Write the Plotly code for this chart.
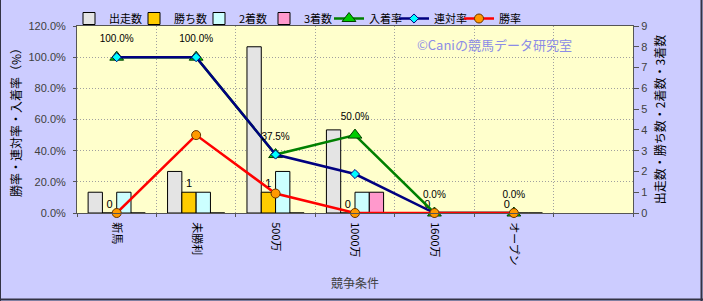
import plotly.graph_objects as go

categories = ["新馬", "未勝利", "500万", "1000万", "1600万", "オープン", " "]
data_cats = categories[:6]
starts = [1, 2, 8, 4, 0, 0]        # 出走数
wins = [0, 1, 1, 0, 0, 0]          # 勝ち数
seconds = [1, 1, 2, 1, 0, 0]       # 2着数
thirds = [0, 0, 0, 1, 0, 0]        # 3着数
place_rate = [100.0, 100.0, 37.5, 50.0, 0.0, 0.0]   # 入着率
rentai_rate = [100.0, 100.0, 37.5, 25.0, 0.0, 0.0]  # 連対率
win_rate = [0.0, 50.0, 12.5, 0.0, 0.0, 0.0]         # 勝率

W, H = 703, 301
ML, MR, MT, MB = 77, 70, 26, 88
PW, PH = W - ML - MR, H - MT - MB

def px_x(p):
    return (p - ML) / PW

def px_y(p):
    return (H - MB - p) / PH

FONT = "Liberation Sans, Noto Sans CJK JP, sans-serif"
JFONT = "Noto Sans CJK JP, sans-serif"

fig = go.Figure()
bar_line = dict(color="#000000", width=1)
fig.add_trace(go.Bar(name="出走数", x=data_cats, y=starts, yaxis="y",
                     marker=dict(color="#E4E4E4", line=bar_line)))
fig.add_trace(go.Bar(name="勝ち数", x=data_cats, y=wins, yaxis="y",
                     marker=dict(color="#FFCC00", line=bar_line),
                     text=[str(v) for v in wins], textposition="outside",
                     textfont=dict(size=11, color="#000000", family=FONT),
                     cliponaxis=False))
fig.add_trace(go.Bar(name="2着数", x=data_cats, y=seconds, yaxis="y",
                     marker=dict(color="#CCFFFF", line=bar_line)))
fig.add_trace(go.Bar(name="3着数", x=data_cats, y=thirds, yaxis="y",
                     marker=dict(color="#FF99CC", line=bar_line)))

fig.add_trace(go.Scatter(name="入着率", x=data_cats, y=place_rate, yaxis="y2",
                         mode="lines+markers",
                         line=dict(color="#008000", width=2.5),
                         marker=dict(symbol="triangle-up", size=12, color="#00CC00",
                                     line=dict(color="#004000", width=1)),
                         cliponaxis=False))
fig.add_trace(go.Scatter(name="連対率", x=data_cats, y=rentai_rate, yaxis="y2",
                         mode="lines+markers",
                         line=dict(color="#000080", width=2.5),
                         marker=dict(symbol="diamond", size=7, color="#00FFFF",
                                     line=dict(color="#000080", width=1)),
                         cliponaxis=False))
fig.add_trace(go.Scatter(name="勝率", x=data_cats, y=win_rate, yaxis="y2",
                         mode="lines+markers",
                         line=dict(color="#FF0000", width=2.5),
                         marker=dict(symbol="circle", size=9, color="#FF9900",
                                     line=dict(color="#663300", width=1)),
                         cliponaxis=False))
fig.add_trace(go.Scatter(x=data_cats, y=place_rate, yaxis="y2", mode="markers+text",
                         text=[f"{v:.1f}%" for v in place_rate],
                         textposition="top center",
                         textfont=dict(size=10, color="#000000", family=FONT),
                         marker=dict(size=18, color="rgba(0,0,0,0)"),
                         showlegend=False, hoverinfo="skip", cliponaxis=False))

shapes = [
    dict(type="line", xref="paper", yref="paper", x0=px_x(0.5), x1=px_x(0.5),
         y0=px_y(0), y1=px_y(H), line=dict(color="#333344", width=1)),
    dict(type="line", xref="paper", yref="paper", x0=px_x(701.5), x1=px_x(701.5),
         y0=px_y(0), y1=px_y(H), line=dict(color="#333344", width=2)),
    dict(type="line", xref="paper", yref="paper", x0=px_x(0), x1=px_x(W),
         y0=px_y(299.5), y1=px_y(299.5), line=dict(color="#333344", width=2)),
]

fig.update_layout(
    width=W, height=H,
    margin=dict(l=ML, r=MR, t=MT, b=MB, pad=0, autoexpand=False),
    paper_bgcolor="#CCCCFF", plot_bgcolor="#FFFFCC",
    font=dict(family=JFONT, size=11, color="#000000"),
    barmode="group", bargap=0.28, bargroupgap=0,
    showlegend=True,
    legend=dict(orientation="h", x=px_x(69), xanchor="left", y=px_y(4), yanchor="top",
                bgcolor="rgba(0,0,0,0)", font=dict(size=11, family=JFONT),
                itemwidth=30, traceorder="normal", tracegroupgap=0,
                entrywidth=20, entrywidthmode="pixels"),
    xaxis=dict(type="category", categoryorder="array", categoryarray=categories,
               range=[-0.5, 6.5], tickangle=90, tickson="boundaries", automargin=False,
               ticks="outside", ticklen=3, tickcolor="#555555",
               ticklabelstandoff=6,
               showgrid=True, gridcolor="#A0A0A0", griddash="1px,2px", gridwidth=1,
               showline=True, linecolor="#555555", linewidth=1, mirror=True,
               tickfont=dict(size=11, color="#000000", family=JFONT),
               title=dict(text="競争条件", font=dict(size=12, color="#404040", family=JFONT),
                          standoff=15)),
    yaxis=dict(side="right", range=[0, 9], dtick=1, showgrid=False, zeroline=False,
               automargin=False,
               ticks="outside", ticklen=5, tickcolor="#555555",
               showline=True, linecolor="#555555", linewidth=1,
               tickfont=dict(size=11, color="#404040", family=FONT),
               title=dict(text="出走数・勝ち数・2着数・3着数",
                          font=dict(size=12, color="#000000", family=JFONT), standoff=10)),
    yaxis2=dict(overlaying="y", side="left", range=[0, 120], dtick=20,
                automargin=False,
                tickformat=".1f", ticksuffix="%", showgrid=True, gridcolor="#A0A0A0",
                griddash="1px,2px", gridwidth=1, zeroline=False,
                ticks="outside", ticklen=3, tickcolor="#555555", ticklabelstandoff=5,
                showline=True, linecolor="#555555", linewidth=1,
                tickfont=dict(size=11, color="#404040", family=FONT),
                title=dict(text="勝率・連対率・入着率（%）",
                           font=dict(size=12, color="#000000", family=JFONT), standoff=4)),
    annotations=[dict(text="©Caniの競馬データ研究室", xref="paper", yref="paper",
                      x=px_x(415), y=px_y(44), xanchor="left", yanchor="middle",
                      showarrow=False, font=dict(size=13, color="#8C8CE6", family=JFONT))],
    shapes=shapes,
)

fig.write_html("out.html")
